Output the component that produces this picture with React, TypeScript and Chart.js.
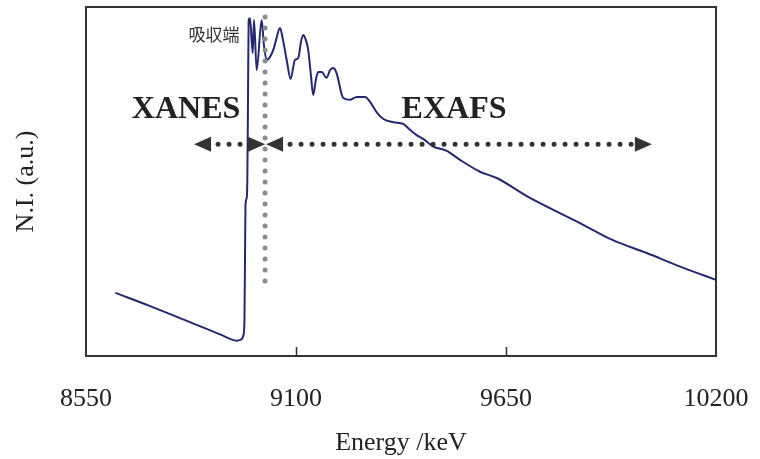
import React, { useEffect, useRef } from "react";
import { Chart, registerables } from "chart.js";

Chart.register(...registerables);

// Energy (keV) and normalized intensity (a.u., 0-100)
const energy = [
  8627, 8718, 8822, 8901, 8932, 8945, 8956, 8962.5, 8965, 8966.4, 8967.7, 8971, 8972.5, 8974.3, 8976,
  8979.5, 8986.6, 8990, 8997, 9010, 9016, 9023, 9032, 9040.5, 9047.6, 9058, 9066, 9075.6, 9086,
  9097, 9106, 9113, 9119, 9126, 9132, 9139, 9145, 9152, 9158, 9167, 9180, 9189, 9197.7, 9205,
  9211, 9218, 9224, 9241, 9259, 9281, 9294, 9311, 9329, 9355, 9381, 9398.6, 9416, 9433, 9459.6,
  9494.7, 9529.5, 9582, 9625.6, 9712.8, 9843.8, 9930, 10018.5, 10106, 10200,
];
const intensity = [
  18.1, 14.3, 9.7, 6.2, 4.7, 4.4, 4.7, 6.0, 10.3, 27.5, 43.3, 45.3, 50.4, 73.4, 96.3,
  96.8, 86.8, 96.3, 81.9, 96.3, 89.1, 84.8, 85.7, 87.7, 90.5, 94.0, 90.5, 84.8, 79.4,
  84.8, 85.4, 90.0, 92.0, 90.5, 87.7, 80.5, 74.8, 79.1, 81.4, 81.4, 79.7, 81.9, 82.5, 81.4,
  79.1, 75.6, 73.9, 73.4, 74.2, 74.2, 72.8, 69.9, 67.9, 67.0, 66.5, 64.8, 63.3, 62.2, 60.0,
  58.8, 56.2, 52.8, 51.0, 45.3, 38.1, 33.2, 29.5, 25.6, 21.8,
];
const xTickValues = [8550, 9100, 9650, 10200];
const innerTickValues = [9100, 9650];

// Annotation anchors (data units)
const edgeEnergy = 9019;
const edgeTop = 97.1;
const edgeBottom = 20.9;
const arrowLevel = 60.7;
const xanesStart = 8833;
const exafsEnd = 10032;
const regionLabels = [
  { text: "XANES", x: 8812, y: 70.5 },
  { text: "EXAFS", x: 9514, y: 70.5 },
];
const edgeLabel = { text: "吸収端", x: 8885, y: 92.1 };

const SERIF = '"Liberation Serif", "Times New Roman", serif';

function arrowHead(ctx: CanvasRenderingContext2D, tipX: number, y: number, dir: number) {
  const len = 17;
  const half = 7.5;
  ctx.beginPath();
  ctx.moveTo(tipX, y);
  ctx.lineTo(tipX - dir * len, y - half);
  ctx.lineTo(tipX - dir * len, y + half);
  ctx.closePath();
  ctx.fill();
}

function dots(ctx: CanvasRenderingContext2D, x0: number, x1: number, y: number) {
  ctx.beginPath();
  ctx.moveTo(x0, y);
  ctx.lineTo(x1, y);
  ctx.stroke();
}

const annotationPlugin = {
  id: "xasAnnotations",
  afterDatasetsDraw(chart: any) {
    const { ctx, chartArea } = chart;
    const xs = chart.scales.x;
    const ys = chart.scales.y;
    ctx.save();

    // frame
    ctx.strokeStyle = "#333";
    ctx.lineWidth = 2;
    ctx.strokeRect(chartArea.left, chartArea.top, chartArea.right - chartArea.left, chartArea.bottom - chartArea.top);
    // inward ticks
    ctx.lineWidth = 1.5;
    innerTickValues.forEach((v) => {
      const px = Math.round(xs.getPixelForValue(v)) + 0.5;
      ctx.beginPath();
      ctx.moveTo(px, chartArea.bottom);
      ctx.lineTo(px, chartArea.bottom - 9);
      ctx.stroke();
    });

    // vertical gray dotted line at edge
    const ex = xs.getPixelForValue(edgeEnergy);
    ctx.strokeStyle = "#8c8c8c";
    ctx.lineWidth = 5;
    ctx.lineCap = "round";
    ctx.setLineDash([0, 11]);
    ctx.beginPath();
    ctx.moveTo(ex, ys.getPixelForValue(edgeTop));
    ctx.lineTo(ex, ys.getPixelForValue(edgeBottom));
    ctx.stroke();

    // arrows
    const ay = ys.getPixelForValue(arrowLevel);
    const lx = xs.getPixelForValue(xanesStart);
    const rx = xs.getPixelForValue(exafsEnd);
    ctx.strokeStyle = "#333";
    dots(ctx, lx + 24, ex - 25, ay);
    dots(ctx, ex + 25, rx - 18, ay);
    ctx.setLineDash([]);
    ctx.fillStyle = "#333";
    arrowHead(ctx, lx, ay, -1);
    arrowHead(ctx, ex, ay, 1);
    arrowHead(ctx, ex + 1, ay, -1);
    arrowHead(ctx, rx, ay, 1);

    // labels
    ctx.fillStyle = "#222";
    ctx.textAlign = "center";
    ctx.textBaseline = "middle";
    ctx.font = `bold 32px ${SERIF}`;
    regionLabels.forEach((l) => {
      ctx.fillText(l.text, xs.getPixelForValue(l.x), ys.getPixelForValue(l.y));
    });
    ctx.fillStyle = "#333";
    ctx.font = `17px "Noto Sans CJK JP", "Noto Sans", sans-serif`;
    ctx.fillText(edgeLabel.text, xs.getPixelForValue(edgeLabel.x), ys.getPixelForValue(edgeLabel.y));

    ctx.restore();
  },
};

export default function App() {
  const ref = useRef<HTMLCanvasElement | null>(null);
  useEffect(() => {
    if (!ref.current) return;
    const chart = new Chart(ref.current, {
      type: "line",
      data: {
        datasets: [
          {
            data: energy.map((e, i) => ({ x: e, y: intensity[i] })),
            borderColor: "#25286f",
            borderWidth: 2,
            pointRadius: 0,
            cubicInterpolationMode: "monotone",
            fill: false,
          },
        ],
      },
      options: {
        animation: false,
        responsive: false,
        devicePixelRatio: 1,
        layout: { padding: { top: 7, right: 44, left: 0, bottom: 0 } },
        plugins: { legend: { display: false }, tooltip: { enabled: false } },
        scales: {
          x: {
            type: "linear",
            min: 8550,
            max: 10200,
            afterBuildTicks: (scale: any) => {
              scale.ticks = xTickValues.map((v) => ({ value: v }));
            },
            afterFit: (scale: any) => {
              scale.height = 103;
              scale.paddingLeft = 0;
              scale.paddingRight = 0;
            },
            grid: { display: false, drawTicks: false },
            border: { display: false },
            ticks: {
              color: "#222",
              font: { family: SERIF, size: 26 },
              padding: 28,
              maxRotation: 0,
              autoSkip: false,
              callback: (v: any) => String(v),
            },
            title: {
              display: true,
              text: "Energy /keV",
              color: "#222",
              font: { family: SERIF, size: 26 },
              padding: { top: 0, bottom: 0 },
            },
          },
          y: {
            type: "linear",
            min: 0,
            max: 100,
            afterFit: (scale: any) => {
              scale.width = 86;
              scale.paddingTop = 0;
              scale.paddingBottom = 0;
            },
            grid: { display: false, drawTicks: false },
            border: { display: false },
            ticks: { display: false },
            title: {
              display: true,
              text: "N.I. (a.u.)",
              color: "#222",
              font: { family: SERIF, size: 26 },
              padding: { top: 11, bottom: 0 },
            },
          },
        },
      },
      plugins: [annotationPlugin],
    });
    return () => chart.destroy();
  }, []);
  return (
    <div style={{ position: "fixed", left: 0, top: 0, width: 760, height: 459, background: "#fff" }}>
      <canvas ref={ref} width={760} height={459} />
    </div>
  );
}
